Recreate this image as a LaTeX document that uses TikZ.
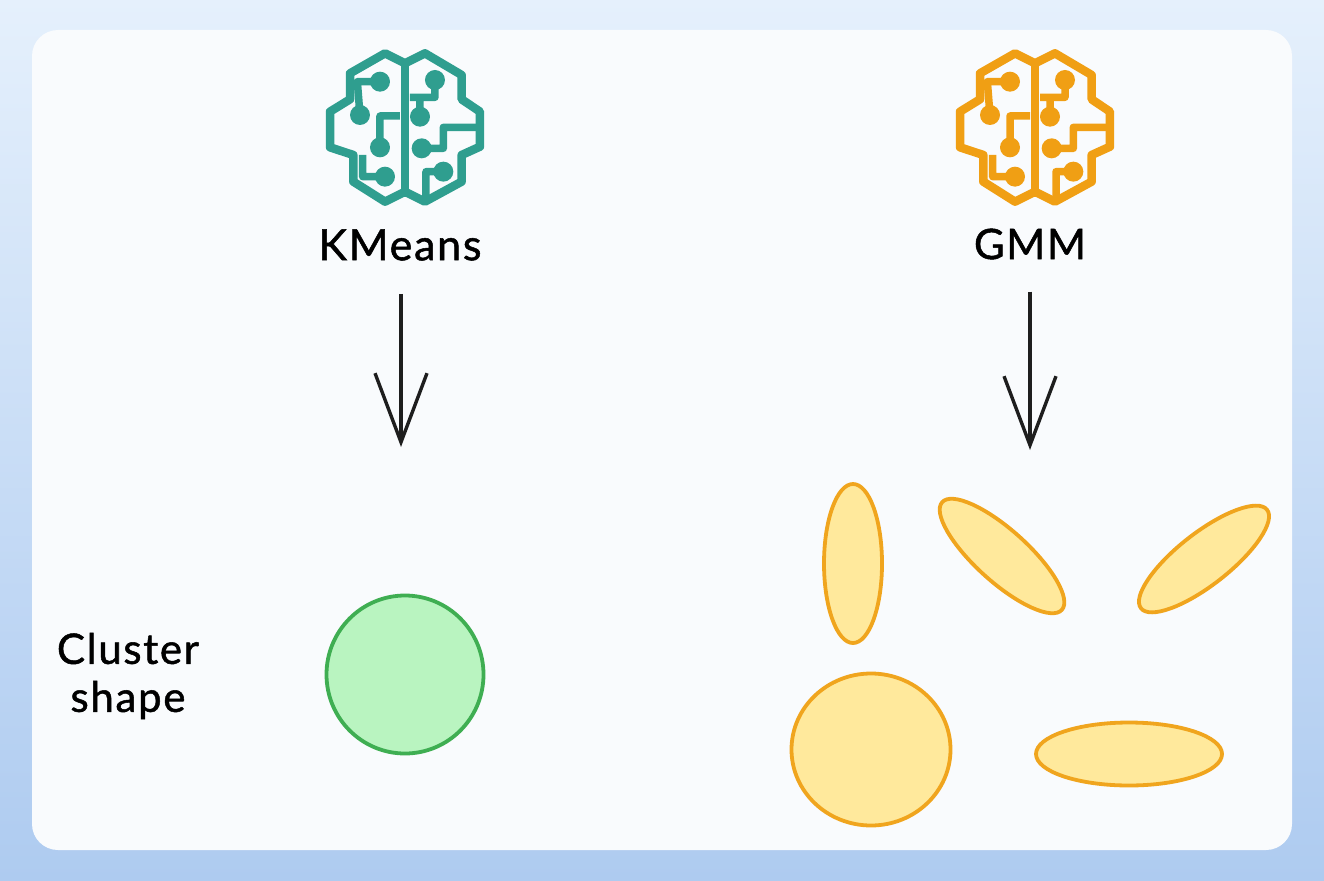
\documentclass[tikz,border=0pt]{standalone}
\usepackage{fontspec}
\setmainfont{Lato}
\newfontfamily\handfont[LetterSpace=4,FakeBold=1.2]{Lato}
\usetikzlibrary{arrows.meta,shapes.geometric}
\definecolor{bgtop}{HTML}{E5F0FC}
\definecolor{bgbot}{HTML}{AECBF0}
\definecolor{panel}{HTML}{F9FBFD}
\definecolor{teal}{HTML}{2F9E8F}
\definecolor{amber}{HTML}{F09F14}
\definecolor{gfill}{HTML}{B9F4C0}
\definecolor{gline}{HTML}{3FAE52}
\definecolor{yfill}{HTML}{FFE99C}
\definecolor{yline}{HTML}{F0A51E}
\definecolor{arrowc}{HTML}{1E1E1E}
\tikzset{
  blob/.style={draw=yline,fill=yfill,line width=3.8pt,ellipse,inner sep=0pt,outer sep=0pt},
  greenblob/.style={blob,draw=gline,fill=gfill},
  hand/.style={text=black,font=\fontsize{#1}{#1}\selectfont,inner sep=0pt},
  flow/.style={draw=arrowc,line width=3.4pt,-{Straight Barb[length=69pt,width=52pt,line width=3.4pt]}},
}
\newcommand{\brainicon}[3]{%
  \begin{scope}[shift={(#1,#2)},x=0.3333pt,y=-0.3333pt]
    \draw[line width=8.5pt,draw=#3,line join=round]
      (315,70) -- (255,40) -- (150,100) -- (150,178) -- (90,215) -- (90,322) -- (160,345) -- (160,425) -- (255,485) -- (315,455)
      -- (375,485) -- (485,425) -- (485,345) -- (540,320) -- (540,215) -- (485,178) -- (485,105) -- (375,40) -- cycle;
    \draw[line width=8.5pt,draw=#3] (315,70) -- (315,470);
    \draw[line width=7.5pt,draw=#3,line join=round]
      (240,125) -- (172,125) -- (180,225)
      (240,322) -- (240,228) -- (300,228)
      (188,345) -- (188,410) -- (255,410)
      (405,120) -- (405,172) -- (330,172)
      (360,230) -- (360,172)
      (365,325) -- (430,325) -- (430,262) -- (540,262)
      (430,395) -- (378,395) -- (378,475);
    \foreach \p in {(240,125),(180,225),(240,322),(255,410),(405,120),(360,230),(365,325),(430,395)}
      \fill[#3] \p circle[radius=30];
  \end{scope}}
\begin{document}
\begin{tikzpicture}[x=1pt,y=-1pt]
  \useasboundingbox (0,0) rectangle (1324,880);
  \shade[top color=bgtop,bottom color=bgbot] (0,0) rectangle (1324,880);
  \fill[panel,rounded corners=26pt] (32,30) rectangle (1292,850);

  \brainicon{300}{40}{teal}
  \brainicon{930}{40}{amber}

  \node[hand=43] (kmeans) at (400,245) {\handfont KMeans};
  \node[hand=42] (gmm) at (1030,244) {\handfont GMM};
  \node[hand=42,align=center] (cluster) at (128,676) {\handfont Cluster\\[6pt]\handfont shape};

  \node[greenblob,minimum width=157pt,minimum height=158pt] (kcircle) at (405,674.5) {};
  \node[blob,minimum width=58pt,minimum height=159pt] (e1) at (853,563.5) {};
  \node[blob,minimum width=161pt,minimum height=52pt,rotate=-42] (e2) at (1002,556) {};
  \node[blob,minimum width=160pt,minimum height=52pt,rotate=38] (e3) at (1204,559) {};
  \node[blob,minimum width=159pt,minimum height=152pt] (e4) at (871,749.5) {};
  \node[blob,minimum width=186pt,minimum height=63pt] (e5) at (1129,754) {};

  \coordinate (kend) at (401,447);
  \coordinate (gend) at (1030,450);
  \draw[flow,shorten <=33pt] (kmeans.south -| kend) -- (kend);
  \draw[flow,shorten <=32pt] (gmm.south -| gend) -- (gend);
\end{tikzpicture}
\end{document}
